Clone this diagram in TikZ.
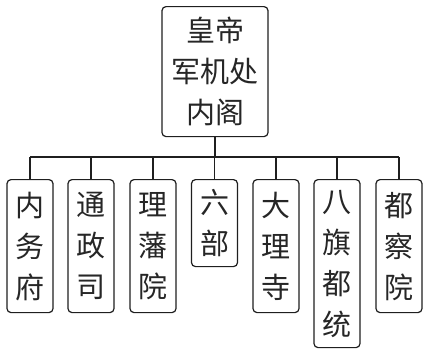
\documentclass[tikz,border=0pt]{standalone}
\usepackage{fontspec}
\newfontfamily\cjk{Noto Sans CJK SC}
\begin{document}
\begin{tikzpicture}[x=1bp,y=-1bp,
  line/.style={line width=1.2bp,draw=black!88},
  box/.style={line, rounded corners=4bp, inner sep=0pt, anchor=north,
    minimum width=46bp, align=center, font=\cjk\fontsize{29bp}{41bp}\selectfont, text=black!85}]
\useasboundingbox (0,0) rectangle (427,353);
\node[box, minimum width=106bp, minimum height=130bp] (top) at (215,6) {皇帝\\军机处\\内阁};
\node[box, minimum height=133bp] (b1) at (30,179) {内\\务\\府};
\node[box, minimum height=133bp] (b2) at (91,179) {通\\政\\司};
\node[box, minimum height=133bp] (b3) at (153,179) {理\\藩\\院};
\node[box, minimum height=87bp] (b4) at (214.5,179) {六\\部};
\node[box, minimum height=133bp] (b5) at (276,179) {大\\理\\寺};
\node[box, minimum height=168bp] (b6) at (337,179) {八\\旗\\都\\统};
\node[box, minimum height=133bp] (b7) at (399,179) {都\\察\\院};
\coordinate (bus) at (215,157);
\draw[line] (top.south) -- (top.south |- bus);
\draw[line] (b1.north |- bus) -- (b7.north |- bus);
\foreach \b in {b1,b2,b3,b4,b5,b6,b7}
  \draw[line] (\b.north) -- (\b.north |- bus);
\end{tikzpicture}
\end{document}
